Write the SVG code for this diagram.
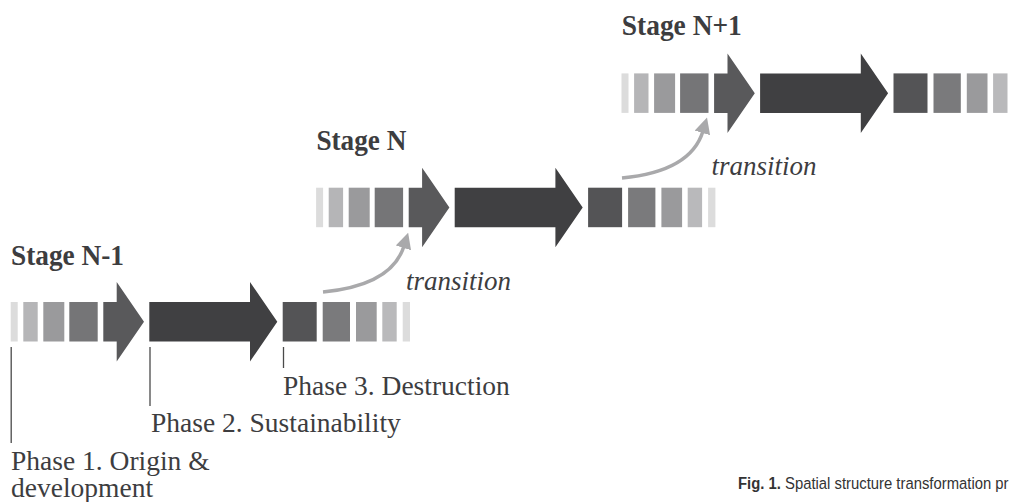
<svg xmlns="http://www.w3.org/2000/svg" xmlns:xlink="http://www.w3.org/1999/xlink" width="1009" height="502" viewBox="0 0 1009 502">
<style>
.c1{fill:#dcdcdc}.c2{fill:#b5b5b7}.c3{fill:#9a9a9c}.c4{fill:#757577}.c5{fill:#59595b}.c6{fill:#404042}.c7{fill:#545456}.c8{fill:#7a7a7c}.c9{fill:#b9b9bb}
.stage{font-family:"Liberation Serif","Times New Roman",serif;font-weight:bold;font-size:29.5px;fill:#3d3d3f}
.phase{font-family:"Liberation Serif","Times New Roman",serif;font-size:27.5px;fill:#3d3d3f}
.trans{font-family:"Liberation Serif","Times New Roman",serif;font-style:italic;font-size:27px;fill:#3d3d3f}
.tick{stroke:#4a4a4a;stroke-width:1.3}
.curve{fill:none;stroke:#a9a9ab;stroke-width:3.5}
.cap{font-family:"Liberation Sans",Arial,sans-serif;font-size:16.5px;fill:#333}
</style>
<defs>
<marker id="ah" markerUnits="userSpaceOnUse" viewBox="0 0 16 16" refX="2" refY="8" markerWidth="16" markerHeight="16" orient="auto"><path d="M0,0 L16,8 L0,16z" fill="#a9a9ab"/></marker>
<g id="row">
<rect class="c1" x="10.7" y="302" width="7" height="39.5"/>
<rect class="c2" x="23.3" y="302" width="14.4" height="39.5"/>
<rect class="c3" x="43.3" y="302" width="21" height="39.5"/>
<rect class="c4" x="69.3" y="302" width="28.4" height="39.5"/>
<polygon class="c5" points="103.3,302 116.7,302 116.7,282 144,321.75 116.7,361.5 116.7,341.5 103.3,341.5"/>
<polygon class="c6" points="149.3,302 250,302 250,282 277.3,321.75 250,361.5 250,341.5 149.3,341.5"/>
<rect class="c7" x="282.7" y="302" width="34" height="39.5"/>
<rect class="c8" x="322.7" y="302" width="27.3" height="39.5"/>
<rect class="c3" x="356" y="302" width="20.7" height="39.5"/>
<rect class="c9" x="382.3" y="302" width="14.4" height="39.5"/>
<rect class="c1" x="402.7" y="302" width="7.3" height="39.5"/>
</g>
</defs>
<g id="stage-n-minus-1">
<use xlink:href="#row"/>
<text class="stage" x="11" y="264.5" textLength="113" lengthAdjust="spacingAndGlyphs">Stage N-1</text>
</g>
<g id="stage-n" transform="translate(305.4,-114.3)">
<use xlink:href="#row"/>
<text class="stage" x="11" y="264" textLength="90" lengthAdjust="spacingAndGlyphs">Stage N</text>
</g>
<g id="stage-n-plus-1" transform="translate(610.8,-228.6)">
<use xlink:href="#row"/>
<text class="stage" x="11" y="264" textLength="120" lengthAdjust="spacingAndGlyphs">Stage N+1</text>
</g>
<g id="connectors">
<path class="curve" d="M323,292 C365,288 395,275 404,246" marker-end="url(#ah)"/>
<text class="trans" x="406" y="290">transition</text>
<path class="curve" d="M622,178 C664,174 694,161 703,131" marker-end="url(#ah)"/>
<text class="trans" x="711.5" y="175">transition</text>
</g>
<g id="phase-labels">
<line class="tick" x1="11.2" y1="347" x2="11.2" y2="443"/>
<line class="tick" x1="150" y1="347" x2="150" y2="406"/>
<line class="tick" x1="283.5" y1="347" x2="283.5" y2="368"/>
<text class="phase" x="283" y="395">Phase 3. Destruction</text>
<text class="phase" x="151" y="431.5">Phase 2. Sustainability</text>
<text class="phase" x="11" y="470">Phase 1. Origin &amp;</text>
<text class="phase" x="11" y="497">development</text>
</g>
<g id="caption">
<text class="cap" transform="translate(738,489) scale(0.9,1)" x="0" y="0"><tspan font-weight="bold">Fig. 1.</tspan> Spatial structure transformation pr</text>
</g>
</svg>
